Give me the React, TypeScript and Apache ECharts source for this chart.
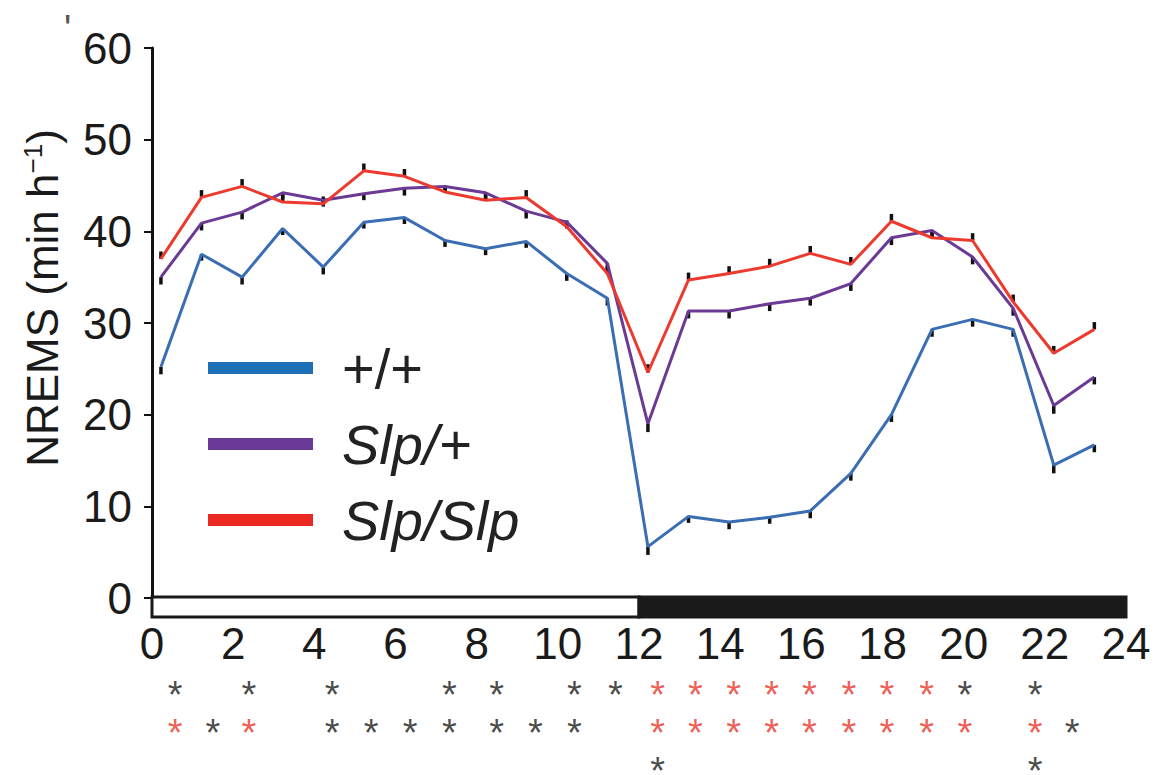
import React, { useEffect, useRef } from "react";
import * as echarts from "echarts";

// x position (hours) of each hourly data point
const pointX = [0.22, 1.22, 2.22, 3.22, 4.22, 5.22, 6.22, 7.22, 8.22, 9.22, 10.22, 11.22, 12.22, 13.22, 14.22, 15.22, 16.22, 17.22, 18.22, 19.22, 20.22, 21.22, 22.22, 23.22];

// NREMS (min/h)
const wildType = [25.2, 37.5, 35.0, 40.3, 36.1, 41.0, 41.5, 39.0, 38.1, 38.9, 35.4, 32.7, 5.6, 8.9, 8.3, 8.8, 9.5, 13.6, 20.0, 29.3, 30.4, 29.3, 14.5, 16.7];
const slpHet = [35.0, 40.9, 42.1, 44.2, 43.4, 44.1, 44.7, 44.9, 44.2, 42.2, 41.0, 36.5, 19.0, 31.3, 31.3, 32.1, 32.7, 34.3, 39.3, 40.1, 37.2, 31.6, 21.0, 24.1];
const slpHom = [37.0, 43.7, 44.9, 43.2, 43.0, 46.6, 46.0, 44.3, 43.4, 43.7, 40.5, 35.4, 24.6, 34.7, 35.4, 36.2, 37.6, 36.4, 41.1, 39.3, 39.0, 32.3, 26.7, 29.3];

// s.e.m. (min/h)
const wildTypeErr = [0.8, 0.7, 0.8, 0.7, 0.8, 0.7, 0.7, 0.7, 0.7, 0.7, 0.8, 0.8, 0.9, 0.7, 0.8, 0.7, 0.8, 0.8, 0.8, 0.8, 0.8, 0.8, 0.9, 0.8];
const slpHetErr = [0.8, 0.8, 0.8, 0.7, 0.7, 0.7, 0.8, 0.7, 0.7, 0.8, 0.7, 0.8, 0.9, 0.8, 0.8, 0.8, 0.8, 0.8, 0.8, 0.7, 0.8, 0.8, 0.9, 0.8];
const slpHomErr = [0.8, 0.8, 0.8, 0.8, 0.8, 0.8, 0.8, 0.7, 0.7, 0.8, 0.7, 0.8, 0.9, 0.8, 0.8, 0.8, 0.8, 0.8, 0.8, 0.7, 0.8, 0.8, 0.8, 0.8];

// light / dark phases
const phaseStart = [0, 12];
const phaseEnd = [12, 24];
const phaseDark = [0, 1];

// significance asterisks: x position (hours) per hour index, rows
const starX = [0.57, 1.5, 2.39, 3.4, 4.44, 5.4, 6.36, 7.33, 8.49, 9.45, 10.41, 11.42, 12.46, 13.39, 14.33, 15.27, 16.2, 17.17, 18.11, 19.09, 20.03, 20.9, 21.76, 22.67];
const row1Black = [0, 2, 4, 7, 8, 10, 11, 20, 22];
const row1Red = [12, 13, 14, 15, 16, 17, 18, 19];
const row2Black = [1, 4, 5, 6, 7, 8, 9, 10, 23];
const row2Red = [0, 2, 12, 13, 14, 15, 16, 17, 18, 19, 20, 22];
const row3Black = [12, 22];

const xTicks = [0, 2, 4, 6, 8, 10, 12, 14, 16, 18, 20, 22, 24];

const FONT = "'Liberation Sans', Arial, Helvetica, sans-serif";
const BLUE = "#3a6db3";
const PURPLE = "#6b3a95";
const RED = "#ec3a2e";

export default function App() {
  const ref = useRef<HTMLDivElement>(null);

  useEffect(() => {
    if (!ref.current) return;
    const chart = echarts.init(ref.current, undefined, { renderer: "svg" });

    const pts = (ys: number[]) => ys.map((y, i) => [pointX[i], y]);
    const errPts = (ys: number[], es: number[]) => ys.map((y, i) => [pointX[i], y, es[i]]);

    const errSeries = (ys: number[], es: number[], dir: number) => ({
      type: "custom",
      xAxisIndex: 0,
      yAxisIndex: 0,
      z: 1,
      silent: true,
      data: errPts(ys, es),
      encode: { x: 0, y: 1 },
      renderItem: (_p: any, api: any) => {
        const x = api.value(0);
        const y = api.value(1);
        const e = api.value(2);
        const a = api.coord([x, y]);
        const b = api.coord([x, y + dir * e]);
        return {
          type: "line",
          shape: { x1: a[0], y1: a[1], x2: b[0], y2: b[1] },
          style: { stroke: "#111", lineWidth: 3.5 },
        };
      },
    });

    const starData = (idx: number[], row: number) => idx.map((h) => [starX[h], row]);
    const starSeries = (data: number[][], color: string) => ({
      type: "scatter",
      xAxisIndex: 1,
      yAxisIndex: 1,
      symbolSize: 1,
      itemStyle: { color: "rgba(0,0,0,0)" },
      silent: true,
      data,
      label: {
        show: true,
        position: "inside",
        formatter: "*",
        color,
        fontFamily: FONT,
        fontSize: 38,
        lineHeight: 20,
        offset: [0, 15],
      },
      labelLayout: { hideOverlap: false },
    });

    const lineSeries = (name: string, ys: number[], color: string) => ({
      name,
      type: "line",
      xAxisIndex: 0,
      yAxisIndex: 0,
      z: 3,
      data: pts(ys),
      symbol: "none",
      color,
      lineStyle: { color, width: 3 },
    });

    chart.setOption({
      animation: false,
      backgroundColor: "#ffffff",
      grid: [
        { left: 152, right: 45, top: 48, bottom: 177 },
        { left: 152, right: 45, top: 657, bottom: 0 },
      ],
      xAxis: [
        {
          type: "value",
          gridIndex: 0,
          min: 0,
          max: 24,
          interval: 2,
          axisLine: { show: false },
          axisTick: { show: false },
          splitLine: { show: false },
          axisLabel: {
            fontFamily: FONT,
            fontSize: 44,
            color: "#1a1a1a",
            margin: 23,
            customValues: xTicks,
          },
        },
        {
          type: "value",
          gridIndex: 1,
          min: 0,
          max: 24,
          show: false,
        },
      ],
      yAxis: [
        {
          type: "value",
          gridIndex: 0,
          min: 0,
          max: 60,
          interval: 10,
          name: "NREMS (min h{sup|−1})",
          nameLocation: "middle",
          nameGap: 88,
          nameTextStyle: {
            fontFamily: FONT,
            fontSize: 44,
            color: "#1a1a1a",
            padding: [0, 0, 0, 50],
            rich: {
              sup: { fontFamily: FONT, fontSize: 26, verticalAlign: "top", color: "#1a1a1a", padding: [0, 0, 14, 0] },
            },
          },
          axisLine: { show: true, lineStyle: { color: "#111", width: 3 } },
          axisTick: { show: true, length: 8, lineStyle: { color: "#111", width: 2 } },
          splitLine: { show: false },
          axisLabel: {
            fontFamily: FONT,
            fontSize: 44,
            color: "#1a1a1a",
            margin: 20,
          },
        },
        {
          type: "value",
          gridIndex: 1,
          min: 0,
          max: 3.105,
          inverse: true,
          show: false,
        },
      ],
      legend: {
        orient: "vertical",
        left: 208,
        top: 340,
        padding: 0,
        icon: "rect",
        itemWidth: 105,
        itemHeight: 12,
        itemGap: 20,
        textStyle: {
          fontFamily: FONT,
          fontSize: 56,
          lineHeight: 50,
          color: "#222",
          padding: [0, 0, 0, 24],
        },
        data: [
          { name: "+/+", itemStyle: { color: "#1d6fb6" } },
          { name: "Slp/+", itemStyle: { color: "#683a96" }, textStyle: { fontStyle: "italic" } },
          { name: "Slp/Slp", itemStyle: { color: "#ec2a22" }, textStyle: { fontStyle: "italic" } },
        ],
      },
      graphic: [
        {
          type: "text",
          left: 64,
          top: 10,
          style: { text: "'", fontFamily: FONT, fontSize: 38, fill: "#555" },
        },
      ],
      series: [
        {
          type: "custom",
          xAxisIndex: 0,
          yAxisIndex: 0,
          z: 4,
          silent: true,
          data: phaseStart.map((s, i) => [s, phaseEnd[i], phaseDark[i]]),
          encode: { x: [0, 1] },
          renderItem: (_p: any, api: any) => {
            const a = api.coord([api.value(0), 0]);
            const b = api.coord([api.value(1), 0]);
            const dark = api.value(2) === 1;
            return {
              type: "rect",
              shape: { x: a[0], y: a[1] - 1, width: b[0] - a[0], height: 20 },
              style: { fill: dark ? "#1a1a1a" : "#ffffff", stroke: "#1a1a1a", lineWidth: 3 },
            };
          },
        },
        errSeries(wildType, wildTypeErr, -1),
        errSeries(slpHet, slpHetErr, -1),
        errSeries(slpHom, slpHomErr, 1),
        lineSeries("+/+", wildType, BLUE),
        lineSeries("Slp/+", slpHet, PURPLE),
        lineSeries("Slp/Slp", slpHom, RED),
        starSeries(starData(row1Black, 1).concat(starData(row2Black, 2), starData(row3Black, 3)), "#1a1a1a"),
        starSeries(starData(row1Red, 1).concat(starData(row2Red, 2)), "#e8352b"),
      ],
    });

    return () => chart.dispose();
  }, []);

  return (
    <div
      ref={ref}
      style={{ position: "fixed", left: 0, top: 0, width: 1171, height: 775, background: "#fff" }}
    />
  );
}
